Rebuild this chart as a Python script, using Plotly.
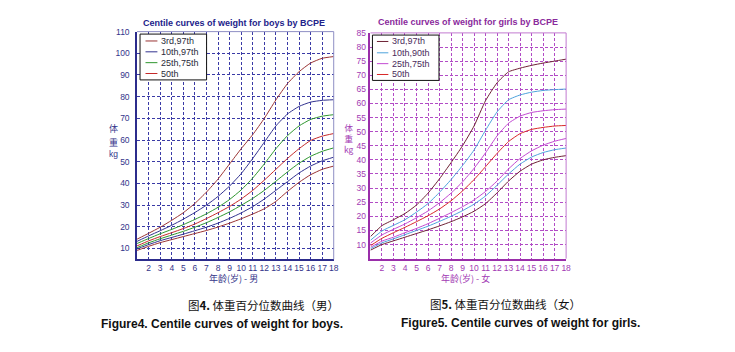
import plotly.graph_objects as go

W, H = 735, 352

ages = list(range(1, 19))

# Boys weight centiles (kg)
boys_p3  = [9.1, 11.0, 12.7, 14.1, 15.5, 16.9, 18.3, 19.9, 21.7, 23.7, 25.9, 28.3, 31.7, 36.3, 40.5, 44.0, 46.5, 48.0]
boys_p10 = [9.8, 11.8, 13.6, 15.1, 16.6, 18.2, 19.8, 21.7, 23.9, 26.4, 29.3, 32.8, 36.8, 40.8, 44.8, 48.0, 50.4, 52.1]
boys_p25 = [10.4, 12.6, 14.5, 16.2, 17.9, 19.8, 21.9, 24.3, 26.9, 29.9, 33.1, 36.8, 41.0, 45.3, 49.3, 52.5, 54.8, 56.4]
boys_p50 = [11.2, 13.5, 15.5, 17.3, 19.2, 21.3, 23.8, 26.5, 29.4, 32.8, 36.8, 41.5, 46.5, 51.5, 56.0, 59.8, 61.8, 63.0]
boys_p75 = [12.3, 14.6, 16.8, 18.8, 21.0, 23.4, 26.0, 29.0, 32.6, 37.0, 42.5, 49.0, 56.0, 62.0, 66.5, 69.5, 71.0, 71.7]
boys_p90 = [13.3, 15.8, 18.2, 20.7, 23.5, 26.6, 30.0, 34.0, 38.8, 44.5, 51.5, 59.0, 66.5, 72.0, 75.5, 77.5, 78.3, 78.6]
boys_p97 = [14.3, 17.0, 19.8, 23.0, 26.5, 30.8, 36.0, 42.0, 49.0, 56.0, 62.5, 70.0, 78.5, 86.0, 91.5, 95.5, 97.7, 98.5]

# Girls weight centiles (kg)
girls_p3  = [8.0, 10.0, 11.3, 12.6, 13.9, 15.2, 16.6, 18.1, 19.8, 21.8, 24.5, 28.3, 32.5, 36.0, 38.5, 40.0, 40.9, 41.5]
girls_p10 = [8.5, 10.6, 12.0, 13.5, 15.0, 16.5, 18.2, 20.0, 22.0, 24.3, 27.2, 31.0, 35.0, 38.5, 41.0, 42.6, 43.6, 44.2]
girls_p25 = [9.0, 11.2, 12.6, 14.2, 15.7, 17.4, 19.3, 21.3, 23.4, 25.8, 28.8, 32.5, 36.8, 40.5, 43.2, 45.2, 46.6, 47.6]
girls_p50 = [9.6, 12.2, 14.2, 16.1, 18.1, 20.2, 22.6, 25.5, 29.0, 33.0, 37.6, 42.3, 46.5, 49.3, 50.8, 51.5, 52.0, 52.2]
girls_p75 = [10.5, 13.4, 15.4, 17.3, 19.5, 21.9, 24.8, 28.2, 32.2, 37.0, 42.5, 48.5, 53.0, 55.5, 56.8, 57.4, 57.8, 58.0]
girls_p90 = [11.5, 14.8, 16.8, 18.8, 21.5, 24.5, 28.5, 33.0, 38.0, 43.5, 50.5, 57.0, 61.3, 63.0, 64.0, 64.6, 64.9, 65.1]
girls_p97 = [12.8, 16.7, 18.8, 21.0, 24.0, 28.2, 33.3, 39.0, 45.0, 52.0, 61.0, 67.3, 71.2, 72.5, 73.5, 74.3, 75.0, 75.7]

boys_legend = ["3rd,97th", "10th,97th", "25th,75th", "50th"]
girls_legend = ["3rd,97th", "10th,90th", "25th,75th", "50th"]

x_ticks = list(range(2, 19))
boys_y_ticks = list(range(10, 111, 10))
girls_y_ticks = list(range(10, 86, 5))

boys_cols = {"c3": "#9a3434", "c10": "#32328f", "c25": "#2e962e", "c50": "#c42a2a"}
girls_cols = {"c3": "#6e2235", "c10": "#4ea3dc", "c25": "#c24ad2", "c50": "#d82828"}

BLUE = "#2c2c8c"
BLUE_TXT = "#34348a"
BLUE_GRID = "#3b3ba6"
PURP = "#9a2eaa"
PURP_TXT = "#a23ab4"
PURP_GRID = "#b24cc6"


def px_x(p):
    return p / W


def px_y(p):
    return 1 - p / H


fig = go.Figure()

boys_series = [(boys_p3, "c3"), (boys_p10, "c10"), (boys_p25, "c25"), (boys_p50, "c50"),
               (boys_p75, "c25"), (boys_p90, "c10"), (boys_p97, "c3")]
for vals, c in boys_series:
    fig.add_trace(go.Scatter(x=ages, y=vals, mode="lines", line=dict(color=boys_cols[c], width=1, shape="spline", smoothing=0.5),
                             xaxis="x", yaxis="y", showlegend=False, hoverinfo="skip"))

girls_series = [(girls_p3, "c3"), (girls_p10, "c10"), (girls_p25, "c25"), (girls_p50, "c50"),
                (girls_p75, "c25"), (girls_p90, "c10"), (girls_p97, "c3")]
for vals, c in girls_series:
    fig.add_trace(go.Scatter(x=ages, y=vals, mode="lines", line=dict(color=girls_cols[c], width=1, shape="spline", smoothing=0.5),
                             xaxis="x2", yaxis="y2", showlegend=False, hoverinfo="skip"))

axis_font = "Liberation Sans, Arial, sans-serif"

def xaxis(domain, color, txt, grid, anchor):
    return dict(domain=domain, range=[1, 18], tickvals=x_ticks, ticktext=[str(v) for v in x_ticks],
                showgrid=True, gridcolor=grid, griddash="3px,2px", gridwidth=1, tickangle=0,
                showline=True, linecolor=color, linewidth=1.5, ticks="", ticklabelstandoff=0,
                tickfont=dict(size=8.5, color=txt, family=axis_font), zeroline=False, anchor=anchor, fixedrange=True)


def yaxis(domain, rng, vals, color, txt, grid, anchor, standoff):
    return dict(domain=domain, range=rng, tickvals=vals, ticktext=[str(v) for v in vals],
                showgrid=True, gridcolor=grid, griddash="3px,2px", gridwidth=1,
                showline=True, linecolor=color, linewidth=1.5, ticks="", ticklabelstandoff=standoff,
                tickfont=dict(size=8.5, color=txt, family=axis_font), zeroline=False, anchor=anchor, fixedrange=True)


b_x0, b_x1, b_y0, b_y1 = 138, 336, 27, 258
g_x0, g_x1, g_y0, g_y1 = 373, 570, 28.3, 257.3

fig.update_layout(
    width=W, height=H, margin=dict(l=0, r=0, t=0, b=0),
    paper_bgcolor="white", plot_bgcolor="white", showlegend=False,
    xaxis=xaxis([px_x(b_x0), px_x(b_x1)], BLUE, BLUE_TXT, BLUE_GRID, "y"),
    yaxis=yaxis([px_y(b_y1), px_y(b_y0)], [5, 110], boys_y_ticks, BLUE, BLUE_TXT, BLUE_GRID, "x", 4),
    xaxis2=xaxis([px_x(g_x0), px_x(g_x1)], PURP, PURP_TXT, PURP_GRID, "y2"),
    yaxis2=yaxis([px_y(g_y1), px_y(g_y0)], [5, 85], girls_y_ticks, PURP, PURP_TXT, PURP_GRID, "x2", 1),
)

shapes = []
annotations = []

# top/right frame lines
for x0, x1, y0, y1, col in [(b_x0, b_x1, b_y0, b_y1, "#8e8ec4"), (g_x0, g_x1, g_y0, g_y1, "#c27ad0")]:
    shapes.append(dict(type="line", xref="paper", yref="paper", x0=px_x(x0), x1=px_x(x1), y0=px_y(y0), y1=px_y(y0),
                       line=dict(color=col, width=1)))
    shapes.append(dict(type="line", xref="paper", yref="paper", x0=px_x(x1), x1=px_x(x1), y0=px_y(y0), y1=px_y(y1),
                       line=dict(color=col, width=1)))

def add_text(x, y, text, size, color, bold=False, xanchor="center", family=axis_font):
    annotations.append(dict(xref="paper", yref="paper", x=px_x(x), y=px_y(y), text=("<b>%s</b>" % text) if bold else text,
                            showarrow=False, xanchor=xanchor, yanchor="middle", borderpad=0,
                            font=dict(size=size, color=color, family=family)))

# titles
add_text(236, 18, "Centile curves of weight for boys by BCPE", 9, "#22228a", bold=True)
add_text(471, 17.5, "Centile curves of weight for girls by BCPE", 9, "#8a2a9c", bold=True)

# axis titles
cjk = "Noto Sans CJK SC, sans-serif"
add_text(235, 277, "年龄(岁) - 男", 9, BLUE_TXT, family=cjk)
add_text(469, 277, "年龄(岁) - 女", 9, PURP_TXT, family=cjk)
add_text(114, 125.5, "体", 9, BLUE_TXT, family=cjk)
add_text(114, 139, "重", 9, BLUE_TXT, family=cjk)
add_text(114, 151.5, "kg", 8.5, BLUE_TXT)
add_text(351, 135, "体<br>重<br>kg", 8.5, PURP_TXT, family=cjk)

# legends
def legend(bx0, by0, bx1, by1, ys, lx0, lx1, tx, labels, cols, txtcol):
    shapes.append(dict(type="rect", xref="paper", yref="paper", x0=px_x(bx0), x1=px_x(bx1), y0=px_y(by1), y1=px_y(by0),
                       line=dict(color="#111111", width=1), fillcolor="white", layer="above"))
    for yy, lab, col in zip(ys, labels, cols):
        shapes.append(dict(type="line", xref="paper", yref="paper", x0=px_x(lx0), x1=px_x(lx1), y0=px_y(yy), y1=px_y(yy),
                           line=dict(color=col, width=1), layer="above"))
        add_text(tx, yy, lab, 9, txtcol, xanchor="left")

legend(141, 29.5, 208, 76, [36.5, 47.5, 58.5, 69.5], 146.5, 158.5, 161, boys_legend,
       [boys_cols["c3"], boys_cols["c10"], boys_cols["c25"], boys_cols["c50"]], "#2a2a3a")
legend(375, 30.5, 442, 76.5, [37, 48.5, 59.5, 70.5], 379.5, 391, 393.5, girls_legend,
       [girls_cols["c3"], girls_cols["c10"], girls_cols["c25"], girls_cols["c50"]], "#4a2a5a")

# captions
add_text(265, 304, "图<b>4.</b> 体重百分位数曲线（男）", 11.5, "#111111", family=cjk)
add_text(509, 303, "图<b>5.</b> 体重百分位数曲线（女）", 11.5, "#111111", family=cjk)
add_text(224, 324, "Figure4. Centile curves of weight for boys.", 12, "#111111", bold=True)
add_text(524, 323, "Figure5. Centile curves of weight for girls.", 12, "#111111", bold=True)

fig.update_layout(shapes=shapes, annotations=annotations)

fig.write_html("out.html")
